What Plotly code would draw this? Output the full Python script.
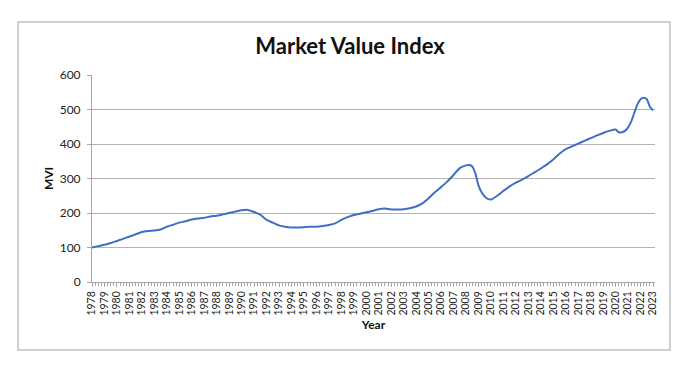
import plotly.graph_objects as go

period = [1978.0, 1978.5, 1979.0, 1979.5, 1980.0, 1980.5, 1981.0, 1981.5, 1982.0, 1982.5,
          1983.0, 1983.5, 1984.0, 1984.5, 1985.0, 1985.5, 1986.0, 1986.5, 1987.0, 1987.5,
          1988.0, 1988.5, 1989.0, 1989.5, 1990.0, 1990.5, 1991.0, 1991.5, 1992.0, 1992.5,
          1993.0, 1993.5, 1994.0, 1994.5, 1995.0, 1995.5, 1996.0, 1996.5, 1997.0, 1997.5,
          1998.0, 1998.5, 1999.0, 1999.5, 2000.0, 2000.5, 2001.0, 2001.5, 2002.0, 2002.5,
          2003.0, 2003.5, 2004.0, 2004.5, 2005.0, 2005.5, 2006.0, 2006.5, 2007.0, 2007.5,
          2008.0, 2008.25, 2008.5, 2008.75, 2009.0, 2009.25, 2009.5, 2009.75, 2010.0, 2010.5,
          2011.0, 2011.5, 2012.0, 2012.5, 2013.0, 2013.5, 2014.0, 2014.5, 2015.0, 2015.5,
          2016.0, 2016.5, 2017.0, 2017.5, 2018.0, 2018.5, 2019.0, 2019.5, 2020.0, 2020.25,
          2020.5, 2020.75, 2021.0, 2021.25, 2021.5, 2021.75, 2022.0, 2022.25, 2022.5, 2022.75,
          2023.0]
mvi = [100, 104, 108, 113, 119, 125, 132, 138, 145, 148,
       149, 152, 160, 166, 172, 176, 181, 184, 186, 190,
       192, 196, 200, 204, 208, 209, 203, 195, 180, 172,
       164, 160, 158, 158, 159, 160, 160, 162, 165, 170,
       180, 188, 194, 198, 202, 206, 211, 213, 210, 210,
       211, 214, 219, 228, 243, 260, 275, 291, 310, 330,
       338, 339, 335, 315, 280, 260, 248, 241, 239, 250,
       264, 277, 288, 297, 307, 318, 329, 341, 355, 372,
       385, 393, 401, 409, 417, 425, 432, 438, 442, 434,
       434, 438, 448, 465, 490, 515, 530, 534, 530, 508,
       498]
year_ticks = list(range(1978, 2024))
year_labels = [str(y) for y in year_ticks]
y_ticks = [0, 100, 200, 300, 400, 500, 600]

# page body has an 8px default margin, so the figure is offset by 8px
W, H = 684, 366
ML, MR, MT, MB = 84, 37, 67, 92
PW, PH = W - ML - MR, H - MT - MB

fig = go.Figure()
fig.add_trace(go.Scatter(
    x=period, y=mvi, mode="lines",
    line=dict(color="#3f6fc5", width=2, shape="spline", smoothing=0.6),
    hoverinfo="x+y", showlegend=False,
))

fig.update_layout(
    width=W, height=H,
    paper_bgcolor="white", plot_bgcolor="white",
    margin=dict(l=ML, r=MR, t=MT, b=MB, pad=0),
    title=dict(text="<b>Market Value Index</b>", x=0.5, xanchor="center",
               y=1 - 38 / H, yanchor="middle",
               font=dict(family="Lato", size=22, color="#111111")),
    font=dict(family="Lato", color="#222222"),
    shapes=[dict(type="rect", xref="paper", yref="paper",
                 x0=(10 - ML) / PW, x1=(662 - ML) / PW,
                 y0=(H - 342 - MB) / PH, y1=(H - 14 - MB) / PH,
                 line=dict(color="#c0c0c0", width=1.5), layer="below")],
)

fig.update_xaxes(
    range=[1978, 2023.16], tickmode="array", tickvals=year_ticks, ticktext=year_labels,
    tickangle=-90, tickfont=dict(size=10.5, color="#222222"),
    showgrid=False, showline=True, linecolor="#a6a6a6", linewidth=1,
    ticks="outside", ticklen=4, tickcolor="#a6a6a6",
    minor=dict(dtick=0.25, tick0=1978, ticks="outside", ticklen=3, tickcolor="#a6a6a6"),
    title=dict(text="<b>Year</b>", font=dict(size=12, color="#111111"), standoff=6),
    zeroline=False,
)
fig.update_yaxes(
    range=[0, 600], tickvals=y_ticks,
    tickfont=dict(size=12, color="#222222"), ticklabelstandoff=4,
    showgrid=True, gridcolor="#b3b3b3", gridwidth=1,
    showline=True, linecolor="#a6a6a6", linewidth=1,
    ticks="outside", ticklen=4, tickcolor="#a6a6a6",
    title=dict(text="<b>MVI</b>", font=dict(size=12, color="#111111"), standoff=3),
    zeroline=False,
)

fig.write_html("out.html")
